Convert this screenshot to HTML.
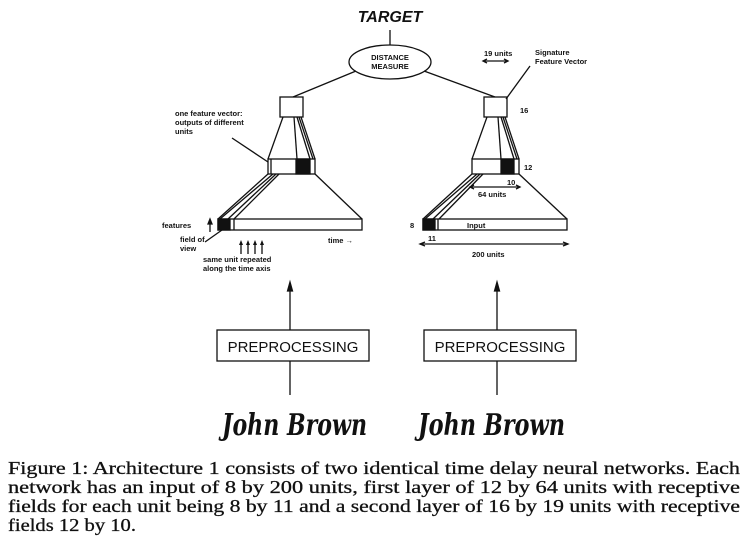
<!DOCTYPE html>
<html><head><meta charset="utf-8"><style>
html,body{margin:0;padding:0;background:#fff;}
svg{display:block;}
.s{font-family:"Liberation Sans",sans-serif;font-weight:bold;font-size:7.5px;fill:#111;}
</style></head><body>
<svg width="748" height="556" viewBox="0 0 748 556" stroke="#111" fill="none" stroke-width="1.3">
<text x="390" y="22" text-anchor="middle" stroke="none" fill="#111" font-family="Liberation Sans, sans-serif" font-weight="bold" font-style="italic" font-size="16">TARGET</text>
<line x1="390" y1="30" x2="390" y2="45"/>
<ellipse cx="390" cy="62" rx="41" ry="17"/>
<text class="s" stroke="none" x="390" y="60" text-anchor="middle">DISTANCE</text>
<text class="s" stroke="none" x="390" y="69" text-anchor="middle">MEASURE</text>
<line x1="356" y1="71" x2="293" y2="97"/>
<line x1="424" y1="71" x2="495" y2="97"/>

<g>
<rect x="280" y="97" width="23" height="20"/>
<line x1="283" y1="117" x2="268" y2="159"/><line x1="301" y1="117" x2="315" y2="159"/>
<line x1="294" y1="117" x2="297" y2="159"/><line x1="297" y1="117" x2="310" y2="159"/><line x1="299" y1="117" x2="313" y2="159"/>
<rect x="268" y="159" width="47" height="15"/>
<rect x="296" y="159" width="14" height="15" fill="#111"/>
<line x1="271" y1="159" x2="271" y2="174"/>
<line x1="268" y1="174" x2="218" y2="219"/><line x1="315" y1="174" x2="362" y2="219"/>
<line x1="273" y1="174" x2="220" y2="219"/><line x1="276" y1="174" x2="228" y2="219"/><line x1="279" y1="174" x2="234" y2="219"/>
<rect x="218" y="219" width="144" height="11"/>
<rect x="218" y="219" width="12" height="11" fill="#111"/>
<line x1="234" y1="219" x2="234" y2="230"/>
</g>
<g>
<rect x="484" y="97" width="23" height="20"/>
<line x1="487" y1="117" x2="472" y2="159"/><line x1="505" y1="117" x2="519" y2="159"/>
<line x1="498" y1="117" x2="501" y2="159"/><line x1="501" y1="117" x2="514" y2="159"/><line x1="503" y1="117" x2="517" y2="159"/>
<rect x="472" y="159" width="47" height="15"/>
<rect x="501" y="159" width="13" height="15" fill="#111"/>
<line x1="472" y1="174" x2="423" y2="219"/><line x1="519" y1="174" x2="567" y2="219"/>
<line x1="477" y1="174" x2="425" y2="219"/><line x1="480" y1="174" x2="433" y2="219"/><line x1="483" y1="174" x2="439" y2="219"/>
<rect x="423" y="219" width="144" height="11"/>
<rect x="423" y="219" width="12" height="11" fill="#111"/>
<line x1="438" y1="219" x2="438" y2="230"/>
</g>

<g stroke="none">
<text class="s" x="175" y="116">one feature vector:</text>
<text class="s" x="175" y="125">outputs of different</text>
<text class="s" x="175" y="134">units</text>
<text class="s" x="162" y="228">features</text>
<text class="s" x="180" y="242">field of</text>
<text class="s" x="180" y="251">view</text>
<text class="s" x="203" y="262">same unit repeated</text>
<text class="s" x="203" y="271">along the time axis</text>
<text class="s" x="328" y="243">time →</text>
</g>
<line x1="232" y1="138" x2="268" y2="162"/>
<line x1="210" y1="232" x2="210" y2="222"/><path d="M208,224 L210,219 L212,224Z" fill="#111"/>
<line x1="205" y1="242" x2="222" y2="230"/>
<g>
<line x1="241" y1="254" x2="241" y2="243"/><line x1="248" y1="254" x2="248" y2="243"/><line x1="255" y1="254" x2="255" y2="243"/><line x1="262" y1="254" x2="262" y2="243"/>
<path d="M239,245 L241,240 L243,245Z M246,245 L248,240 L250,245Z M253,245 L255,240 L257,245Z M260,245 L262,240 L264,245Z" fill="#111" stroke="none"/>
</g>

<g stroke="none">
<text class="s" x="484" y="56">19 units</text>
<text class="s" x="535" y="55">Signature</text>
<text class="s" x="535" y="64">Feature Vector</text>
<text class="s" x="520" y="113">16</text>
<text class="s" x="524" y="170">12</text>
<text class="s" x="507" y="185">10</text>
<text class="s" x="478" y="197">64 units</text>
<text class="s" x="410" y="228">8</text>
<text class="s" x="467" y="228">Input</text>
<text class="s" x="428" y="241">11</text>
<text class="s" x="472" y="257">200 units</text>
</g>
<line x1="484" y1="61" x2="507" y2="61"/>
<path d="M487,59 L483,61 L487,63 M504,59 L508,61 L504,63"/>
<line x1="530" y1="66" x2="506" y2="99"/>
<line x1="470" y1="187" x2="520" y2="187"/>
<path d="M474,185 L470,187 L474,189 M516,185 L520,187 L516,189"/>
<line x1="420" y1="244" x2="568" y2="244"/>
<path d="M425,242 L420,244 L425,246 M563,242 L568,244 L563,246"/>

<g>
<line x1="290" y1="288" x2="290" y2="330"/><path d="M287.5,291 L290,282 L292.5,291Z" fill="#111"/>
<rect x="217" y="330" width="152" height="31"/>
<text x="293" y="352" text-anchor="middle" stroke="none" fill="#111" font-family="Liberation Sans, sans-serif" font-size="15">PREPROCESSING</text>
<line x1="290" y1="361" x2="290" y2="395"/>
</g>
<g>
<line x1="497" y1="288" x2="497" y2="330"/><path d="M494.5,291 L497,282 L499.5,291Z" fill="#111"/>
<rect x="424" y="330" width="152" height="31"/>
<text x="500" y="352" text-anchor="middle" stroke="none" fill="#111" font-family="Liberation Sans, sans-serif" font-size="15">PREPROCESSING</text>
<line x1="497" y1="361" x2="497" y2="395"/>
</g>
<text x="222" y="435" textLength="145" lengthAdjust="spacingAndGlyphs" stroke="none" fill="#111" font-family="DejaVu Serif, serif" font-style="italic" font-weight="bold" font-size="30">John Brown</text>
<text x="418" y="435" textLength="147" lengthAdjust="spacingAndGlyphs" stroke="none" fill="#111" font-family="DejaVu Serif, serif" font-style="italic" font-weight="bold" font-size="30">John Brown</text>

<g stroke="#111" stroke-width="0.3" fill="#111" font-family="Liberation Serif, serif" font-size="18">
<text x="8" y="474" textLength="732" lengthAdjust="spacingAndGlyphs">Figure 1: Architecture 1 consists of two identical time delay neural networks. Each</text>
<text x="8" y="493" textLength="732" lengthAdjust="spacingAndGlyphs">network has an input of 8 by 200 units, first layer of 12 by 64 units with receptive</text>
<text x="8" y="512" textLength="732" lengthAdjust="spacingAndGlyphs">fields for each unit being 8 by 11 and a second layer of 16 by 19 units with receptive</text>
<text x="8" y="531" textLength="128" lengthAdjust="spacingAndGlyphs">fields 12 by 10.</text>
</g>
</svg>
</body></html>
